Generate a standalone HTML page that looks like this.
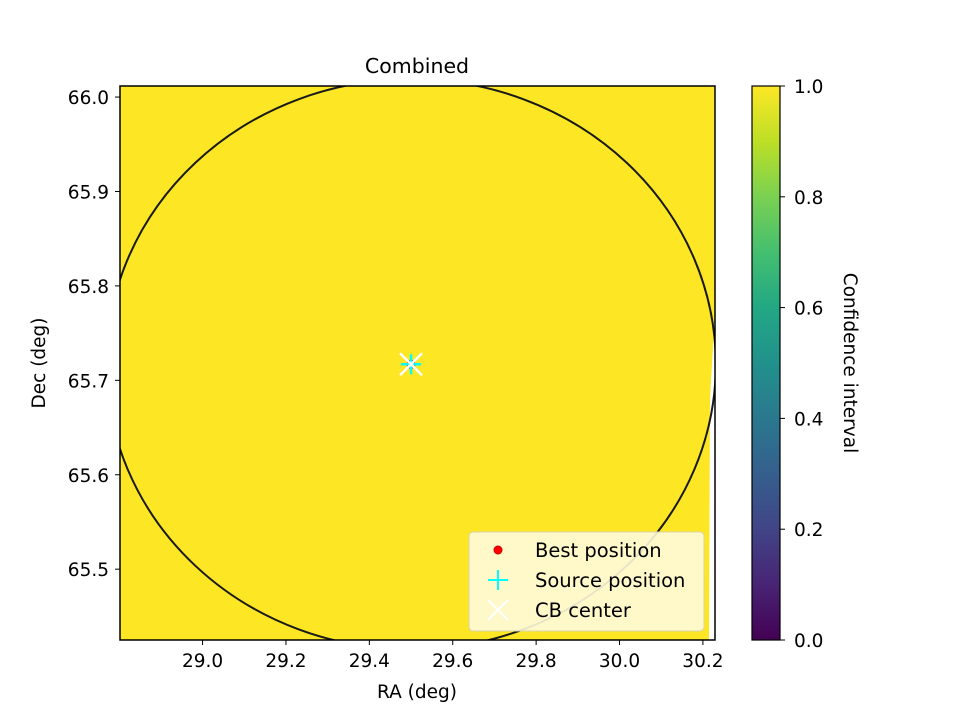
<!DOCTYPE html>
<html><head><meta charset="utf-8"><style>
body{margin:0;background:#fff;}
svg{display:block;font-family:"DejaVu Sans","Liberation Sans",sans-serif;}
</style></head><body>
<svg id="chart" width="960" height="720" viewBox="0 0 960 720">
<defs>
<linearGradient id="viridis" x1="0" y1="1" x2="0" y2="0">
<stop offset="0" stop-color="#440154"/><stop offset="0.1" stop-color="#482475"/>
<stop offset="0.2" stop-color="#414487"/><stop offset="0.3" stop-color="#355f8d"/>
<stop offset="0.4" stop-color="#2a788e"/><stop offset="0.5" stop-color="#21918c"/>
<stop offset="0.6" stop-color="#22a884"/><stop offset="0.7" stop-color="#44bf70"/>
<stop offset="0.8" stop-color="#7ad151"/><stop offset="0.9" stop-color="#bddf26"/>
<stop offset="1" stop-color="#fde725"/></linearGradient>
<clipPath id="plotclip"><rect x="120" y="86" width="595" height="554"/></clipPath>
</defs>
<text x="417" y="73" text-anchor="middle" font-size="20.5">Combined</text>
<g id="plot"></g>
<g id="cbar"></g>
</svg>
<script>
const xTicks=[29.0,29.2,29.4,29.6,29.8,30.0,30.2];
const yTicks=[65.5,65.6,65.7,65.8,65.9,66.0];
const cTicks=[0.0,0.2,0.4,0.6,0.8,1.0];
const xDomain=[28.802,30.229];
const yDomain=[65.425,66.0117];
const circleCenter=[29.5,65.717];
const circleRadius=[0.731,0.302];
const bestPos=[29.5,65.717];
const sourcePos=[29.5,65.717];
const cbCenter=[29.5,65.717];
const NS='http://www.w3.org/2000/svg';
const L=120,R=715,T=86,B=640;
const sx=v=>L+(v-xDomain[0])/(xDomain[1]-xDomain[0])*(R-L);
const sy=v=>B-(v-yDomain[0])/(yDomain[1]-yDomain[0])*(B-T);
const cT=86,cB=640,cL=752,cR=780;
const sc=v=>cB-v*(cB-cT);
function mk(tag,attrs,parent){const e=document.createElementNS(NS,tag);for(const k in attrs)e.setAttribute(k,attrs[k]);parent.appendChild(e);return e;}
const plot=document.getElementById('plot');
let e=mk('rect',{x:L,y:T,width:R-L,height:B-T,fill:'#fde725'},plot);


e=mk('polygon',{points:(R-5)+',400 '+R+',310 '+R+','+B+' '+(R-6)+','+B,fill:'#fff'},plot);


const g=mk('g',{'clip-path':'url(#plotclip)'},plot);
const cx=sx(circleCenter[0]),cy=sy(circleCenter[1]);
const rx=sx(circleCenter[0]+circleRadius[0])-cx, ry=cy-sy(circleCenter[1]+circleRadius[1]);
e=mk('ellipse',{cx:cx,cy:cy,rx:rx,ry:ry,fill:'none',stroke:'#1a1a1a','stroke-width':2},g);


let bx=sx(bestPos[0]),by=sy(bestPos[1]);
e=mk('circle',{cx:bx,cy:by,r:4,fill:'#ff0000',stroke:'#cc0000'},g);


let px=sx(sourcePos[0]),py=sy(sourcePos[1]);
e=mk('path',{d:`M${px-10},${py}H${px+10}M${px},${py-10}V${py+10}`,stroke:'#00ffff','stroke-width':2.5},g);


let qx=sx(cbCenter[0]),qy=sy(cbCenter[1]);
e=mk('path',{d:`M${qx-11},${qy-11}L${qx+11},${qy+11}M${qx-11},${qy+11}L${qx+11},${qy-11}`,stroke:'#fff','stroke-width':2.5},g);


const lg=mk('g',{},plot);


mk('rect',{x:469,y:532,width:235,height:99,rx:4,fill:'#fffbdc','fill-opacity':0.9,stroke:'#d8d4a8'},lg);
mk('circle',{cx:498,cy:550,r:4,fill:'#ff0000',stroke:'#cc0000'},lg);
mk('path',{d:'M488,580H508M498,570V590',stroke:'#00ffff','stroke-width':2},lg);
mk('path',{d:'M488,600L508,620M488,620L508,600',stroke:'#fff','stroke-width':2},lg);
const labs=['Best position','Source position','CB center'];
labs.forEach((t,i)=>{const te=mk('text',{x:535,y:557+i*30,'font-size':19.5},lg);te.textContent=t;

});
mk('rect',{x:L,y:T,width:R-L,height:B-T,fill:'none',stroke:'#000','stroke-width':1.5},plot);
xTicks.forEach(v=>{const x=sx(v);mk('line',{x1:x,y1:B,x2:x,y2:B+5,stroke:'#000'},plot);
const t=mk('text',{x:x,y:B+27,'text-anchor':'middle','font-size':18.5},plot);t.textContent=v.toFixed(1);

});
yTicks.forEach(v=>{const y=sy(v);mk('line',{x1:L-5,y1:y,x2:L,y2:y,stroke:'#000'},plot);
const t=mk('text',{x:L-11,y:y+7,'text-anchor':'end','font-size':18.5},plot);t.textContent=v.toFixed(1);

});
let t=mk('text',{x:417,y:698,'text-anchor':'middle','font-size':18.5},plot);t.textContent='RA (deg)';


t=mk('text',{x:45,y:363,'text-anchor':'middle','font-size':18.5,transform:'rotate(-90 45 363)'},plot);t.textContent='Dec (deg)';


const cb=document.getElementById('cbar');
mk('rect',{x:cL,y:cT,width:cR-cL,height:cB-cT,fill:'url(#viridis)',stroke:'#000','stroke-width':1.2},cb);
cTicks.forEach(v=>{const y=sc(v);mk('line',{x1:cR,y1:y,x2:cR+5,y2:y,stroke:'#000'},cb);
const te=mk('text',{x:cR+14,y:y+7,'font-size':18.5},cb);te.textContent=v.toFixed(1);

});
t=mk('text',{x:844,y:363,'text-anchor':'middle','font-size':18.5,transform:'rotate(90 844 363)'},cb);t.textContent='Confidence interval';


</script>
</body></html>
